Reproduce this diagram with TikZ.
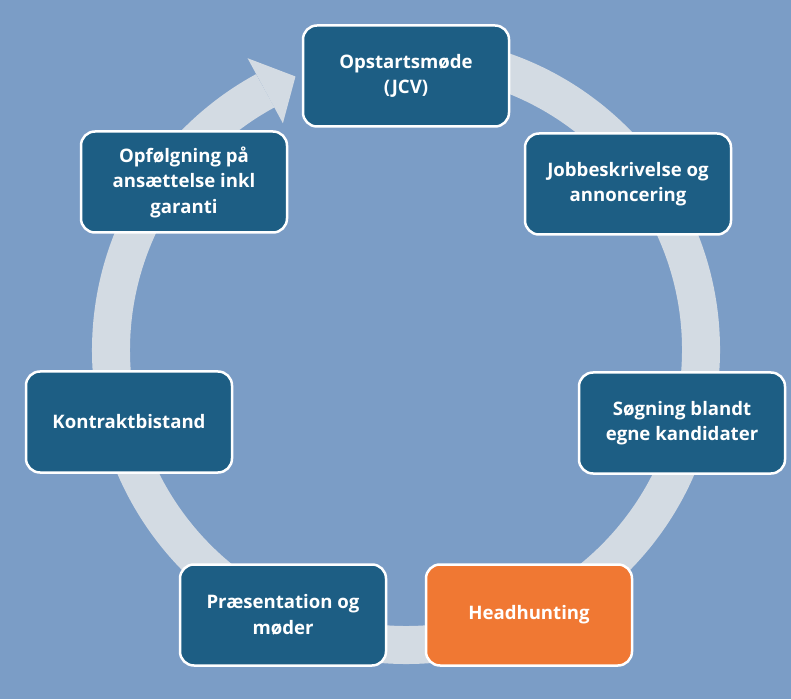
\documentclass[tikz,border=0pt]{standalone}
\usepackage{fontspec}
\setmainfont{Open Sans}
\definecolor{bg}{HTML}{7B9DC6}
\definecolor{boxblue}{HTML}{1D5E84}
\definecolor{ringgray}{HTML}{D3DBE3}
\definecolor{orng}{HTML}{F07833}
\begin{document}
\begin{tikzpicture}[x=1pt,y=1pt,
  stepbox/.style={draw=white, line width=2.5pt, fill=boxblue, rounded corners=14pt,
    minimum width=206pt, minimum height=101pt, text=white, align=center,
    font=\fontsize{18.6}{25.5}\selectfont\bfseries, inner sep=0pt},
  hot/.style={fill=orng}]
\fill[bg] (0,0) rectangle (791,699);
\useasboundingbox (0,0) rectangle (791,699);
\coordinate (c) at (406,349);
% ring
\draw[ringgray, line width=38pt] ([shift={(85:295)}]c) arc[start angle=85, end angle=-241.5, radius=295];
\fill[ringgray] ([shift={(118.5:332)}]c) -- ([shift={(112:295)}]c) -- ([shift={(118.5:258)}]c) -- cycle;
% boxes
\node[stepbox] (opstart) at (406,623) {Opstartsmøde\\(JCV)};
\node[stepbox] (job) at (628,515) {Jobbeskrivelse og\\annoncering};
\node[stepbox] (soeg) at (682,276) {Søgning blandt\\egne kandidater};
\node[stepbox,hot] (head) at (529,84) {Headhunting};
\node[stepbox] (praes) at (283,84) {Præsentation og\\møder};
\node[stepbox] (kontrakt) at (129,277) {Kontraktbistand};
\node[stepbox] (opf) at (184,517) {Opfølgning på\\ansættelse inkl\\garanti};
\end{tikzpicture}
\end{document}
